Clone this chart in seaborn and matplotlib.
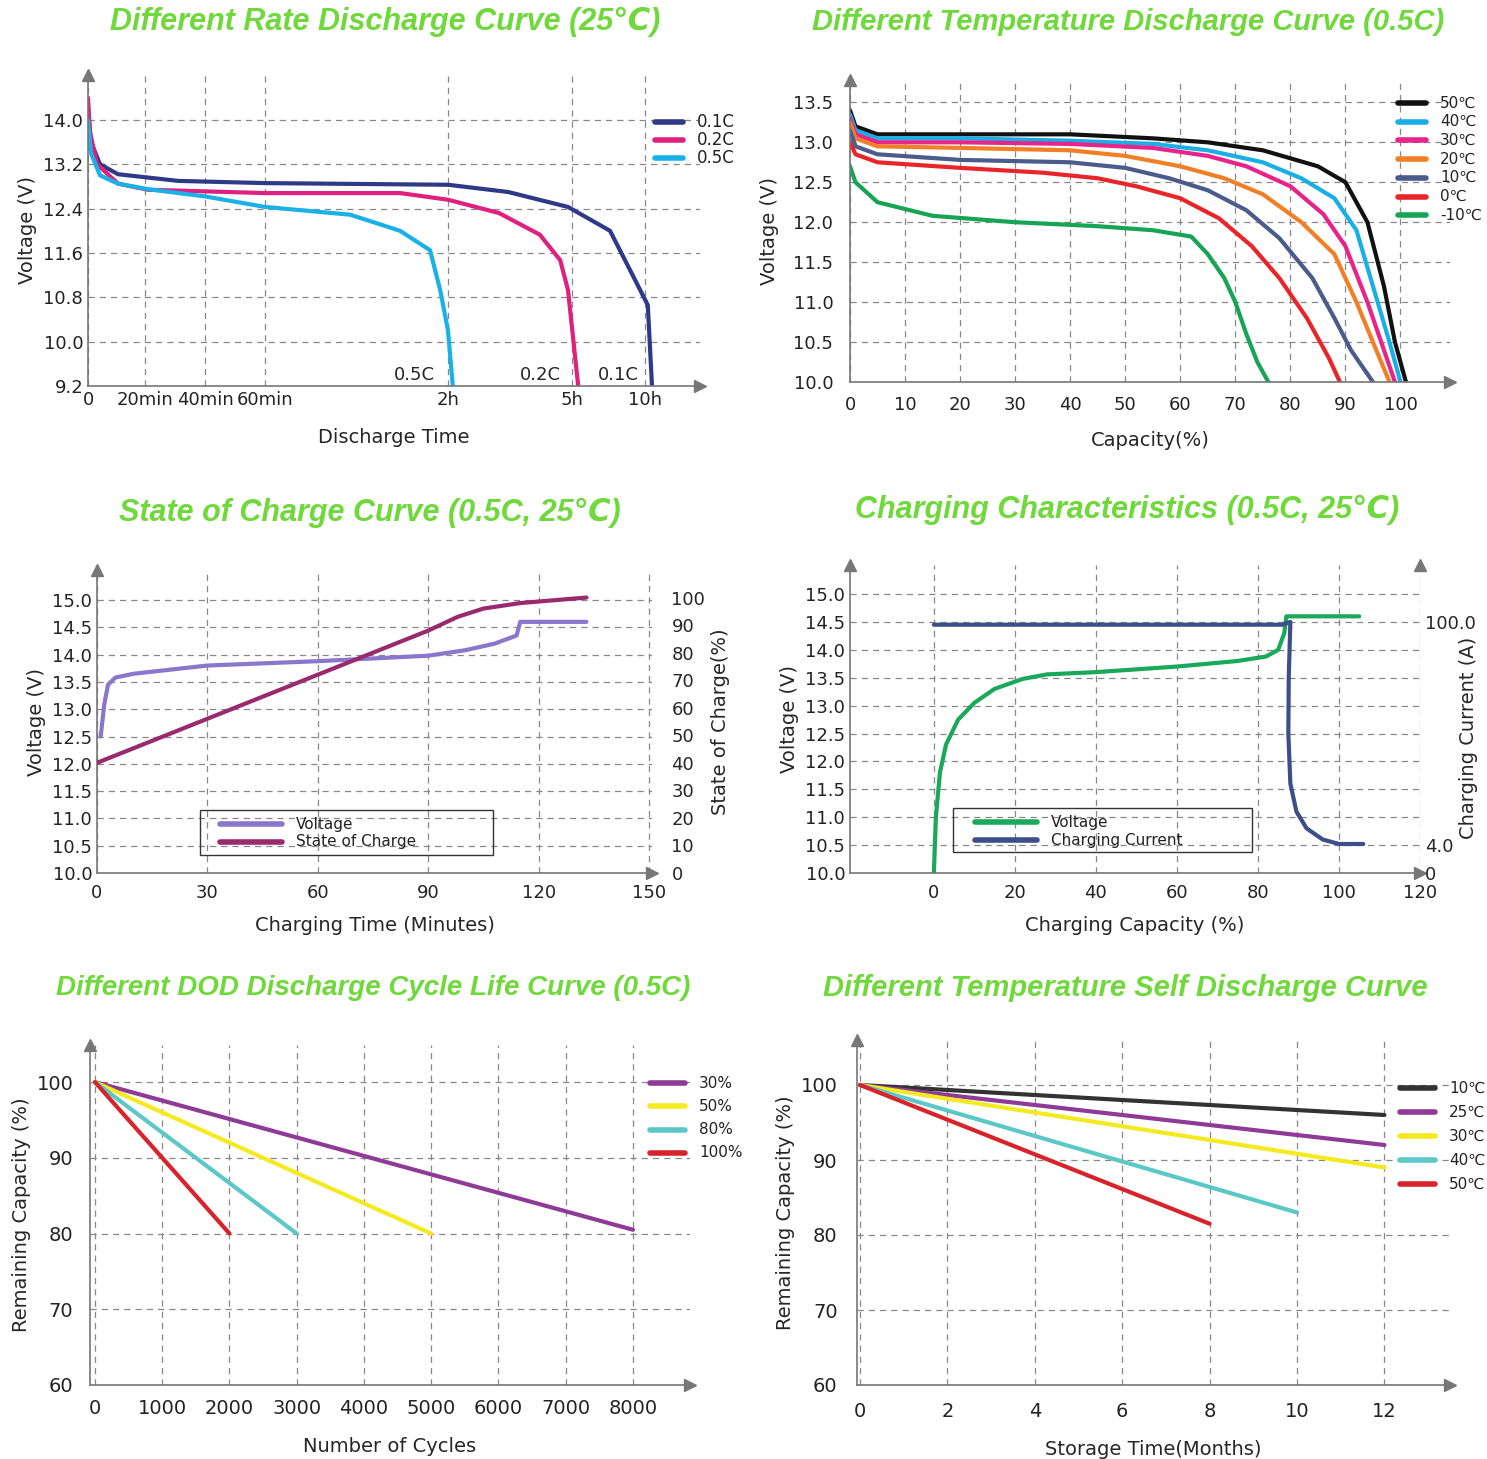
import numpy as np
import pandas as pd
import matplotlib
matplotlib.use("Agg")
import matplotlib.pyplot as plt
import seaborn as sns

sns.set_style("white")
plt.rcParams['font.family'] = ['DejaVu Sans']

W, H = 1487, 1459
GREEN = "#6fd83a"

# ---------------- data ----------------
rate_ticks = [0, 0.95, 1.95, 2.95, 6.0, 8.07, 9.28]
rate_ticklabels = ["0", "20min", "40min", "60min", "2h", "5h", "10h"]
r01_x = [0, 0.05, 0.2, 0.5, 1.5, 2.95, 6.0, 7.0, 8.0, 8.7, 9.03, 9.33, 9.4]
r01_y = [14.2, 13.6, 13.2, 13.02, 12.9, 12.86, 12.83, 12.7, 12.43, 12.0, 11.3, 10.66, 9.2]
r02_x = [0, 0.03, 0.15, 0.5, 1.0, 2.95, 5.2, 6.0, 6.85, 7.53, 7.87, 8.0, 8.17]
r02_y = [14.4, 13.8, 13.2, 12.85, 12.74, 12.68, 12.68, 12.56, 12.32, 11.93, 11.47, 10.93, 9.2]
r05_x = [0, 0.05, 0.2, 0.5, 1.0, 1.95, 2.95, 4.37, 5.2, 5.7, 5.87, 6.0, 6.08]
r05_y = [14.0, 13.4, 13.0, 12.85, 12.75, 12.62, 12.43, 12.29, 12.0, 11.65, 10.93, 10.2, 9.2]

temp_labels = ["50℃", "40℃", "30℃", "20℃", "10℃", "0℃", "-10℃"]
temp_colors = ["#111111", "#19aee6", "#e8248a", "#f07f26", "#4a5b8c", "#e8262a", "#18a455"]
temp_x = [
    [0, 1, 5, 20, 40, 55, 65, 75, 85, 90, 94, 97, 99, 101],
    [0, 1, 5, 20, 40, 55, 65, 75, 82, 88, 92, 95, 98, 100],
    [0, 1, 5, 20, 40, 55, 65, 72, 80, 86, 90, 94, 97, 99],
    [0, 1, 5, 20, 40, 50, 60, 68, 75, 82, 88, 92, 95, 98],
    [0, 1, 5, 20, 40, 50, 58, 65, 72, 78, 84, 88, 91, 95],
    [0, 1, 5, 20, 35, 45, 52, 60, 67, 73, 78, 83, 87, 89],
    [0, 1, 5, 15, 30, 45, 55, 62, 65, 68, 70, 72, 74, 76],
]
temp_y = [
    [13.4, 13.2, 13.1, 13.1, 13.1, 13.05, 13.0, 12.9, 12.7, 12.5, 12.0, 11.2, 10.5, 10.0],
    [13.35, 13.15, 13.05, 13.05, 13.02, 12.98, 12.9, 12.75, 12.55, 12.3, 11.9, 11.2, 10.5, 10.0],
    [13.3, 13.1, 13.0, 13.0, 12.98, 12.93, 12.83, 12.7, 12.45, 12.1, 11.7, 11.0, 10.4, 10.0],
    [13.25, 13.05, 12.95, 12.93, 12.9, 12.83, 12.7, 12.55, 12.35, 12.0, 11.6, 11.0, 10.5, 10.0],
    [13.15, 12.95, 12.85, 12.78, 12.75, 12.68, 12.55, 12.4, 12.15, 11.8, 11.3, 10.8, 10.4, 10.0],
    [13.0, 12.85, 12.75, 12.68, 12.62, 12.55, 12.45, 12.3, 12.05, 11.7, 11.3, 10.8, 10.3, 10.0],
    [12.7, 12.5, 12.25, 12.08, 12.0, 11.95, 11.9, 11.82, 11.6, 11.3, 11.0, 10.6, 10.25, 10.0],
]

soc_vx = [1, 2, 3, 5, 10, 30, 60, 90, 100, 108, 112, 114, 115, 133]
soc_vy = [12.5, 13.1, 13.45, 13.58, 13.65, 13.8, 13.88, 13.98, 14.08, 14.2, 14.3, 14.35, 14.6, 14.6]
soc_x = [0, 30, 60, 90, 98, 105, 115, 133]
soc_y = [40, 56, 72, 88, 93, 96, 98, 100]

chg_vx = [0, 0.5, 1.5, 3, 6, 10, 15, 22, 28, 40, 60, 75, 82, 85, 86.5, 87, 87.5, 105]
chg_vy = [10.0, 11.0, 11.8, 12.3, 12.75, 13.05, 13.3, 13.48, 13.56, 13.6, 13.7, 13.8, 13.88, 14.0, 14.3, 14.6, 14.6, 14.6]
cur_x = [0, 86, 88, 87.6, 87.5, 88, 89.5, 92, 96, 100, 106]
cur_y = [14.45, 14.45, 14.5, 13.5, 12.5, 11.6, 11.1, 10.8, 10.6, 10.52, 10.52]

dod_labels = ["30%", "50%", "80%", "100%"]
dod_colors = ["#8e3a96", "#f5ea20", "#5cc7c7", "#d8232a"]
dod_x = [[0, 8000], [0, 5000], [0, 3000], [0, 2000]]
dod_y = [[100, 80.5], [100, 80], [100, 80], [100, 80]]

sd_labels = ["10℃", "25℃", "30℃", "40℃", "50℃"]
sd_colors = ["#333333", "#8e3a96", "#f5ea20", "#5cc7c7", "#d8232a"]
sd_x = [[0, 12], [0, 12], [0, 12], [0, 10], [0, 8]]
sd_y = [[100, 96], [100, 92], [100, 89], [100, 83], [100, 81.5]]

# ---------------- helpers ----------------
fig = plt.figure(figsize=(W / 100, H / 100), dpi=100)


def ax_px(l, t, r, b):
    return fig.add_axes([l / W, 1 - b / H, (r - l) / W, (b - t) / H])


def style(ax):
    for s in ["top", "right"]:
        ax.spines[s].set_visible(False)
    for s in ["left", "bottom"]:
        ax.spines[s].set_color("#777777")
        ax.spines[s].set_linewidth(1.2)
    ax.plot(0, 1, marker="^", color="#777777", markersize=9, transform=ax.transAxes, clip_on=False)
    ax.plot(1, 0, marker=">", color="#777777", markersize=9, transform=ax.transAxes, clip_on=False)
    ax.grid(True, linestyle=(0, (5, 4)), color="#888888", linewidth=0.9)
    ax.tick_params(labelsize=13, length=0, colors="#222222")


def line(ax, x, y, color, lw=3, label=None):
    df = pd.DataFrame({"x": x, "y": y})
    sns.lineplot(data=df, x="x", y="y", ax=ax, color=color, lw=lw, sort=False,
                 estimator=None, label=label, legend=False)
    ax.set_xlabel("")
    ax.set_ylabel("")


def title(x, y, s, fs=21):
    fig.text(x / W, 1 - y / H, s, color=GREEN, fontsize=fs, fontweight="bold",
             fontstyle="italic", ha="center", va="center",
             family=["Liberation Sans", "DejaVu Sans"])


def legend(ax, labels, colors, x, y, dy, fs=11, llen=28, lw=4):
    for i, (lab, c) in enumerate(zip(labels, colors)):
        yy = 1 - (y + i * dy) / H
        fig.add_artist(plt.Line2D([x / W, (x + llen) / W], [yy, yy], color=c, lw=lw))
        fig.text((x + llen + 14) / W, yy, lab, fontsize=fs, va="center", color="#222222")


# ---------------- Panel 1 ----------------
ax = ax_px(88, 75, 700, 386)
style(ax)
line(ax, r01_x, r01_y, "#2e3a87")
line(ax, r02_x, r02_y, "#e0207f")
line(ax, r05_x, r05_y, "#1ab0e8")
ax.set_xlim(0, 10.2)
ax.set_ylim(9.2, 14.81)
ax.set_xticks(rate_ticks)
ax.set_xticklabels(rate_ticklabels)
ax.set_yticks([9.2, 10.0, 10.8, 11.6, 12.4, 13.2, 14.0])
ax.set_ylabel("Voltage (V)", fontsize=14)
ax.set_xlabel("Discharge Time", fontsize=14, labelpad=14)
for tx, s in [(5.1, "0.5C"), (7.2, "0.2C"), (8.5, "0.1C")]:
    ax.text(tx, 9.3, s, fontsize=13)
title(385, 22, "Different Rate Discharge Curve (25℃)", fs=22)
legend(ax, ["0.1C", "0.2C", "0.5C"], ["#2e3a87", "#e0207f", "#1ab0e8"], 655, 122, 18, fs=12)

# ---------------- Panel 2 ----------------
ax = ax_px(850, 80, 1450, 382)
style(ax)
for xs, ys, c in zip(temp_x, temp_y, temp_colors):
    line(ax, xs, ys, c)
ax.set_xlim(0, 109)
ax.set_ylim(10, 13.78)
ax.set_xticks([0, 10, 20, 30, 40, 50, 60, 70, 80, 90, 100])
ax.set_yticks([10.0, 10.5, 11.0, 11.5, 12.0, 12.5, 13.0, 13.5])
ax.tick_params(axis="y", pad=12)
ax.tick_params(axis="x", pad=10)
ax.set_ylabel("Voltage (V)", fontsize=14, labelpad=10)
ax.set_xlabel("Capacity(%)", fontsize=14, labelpad=12)
title(1128, 22, "Different Temperature Discharge Curve (0.5C)")
legend(ax, temp_labels, temp_colors, 1398, 103, 18.7, fs=11)

# ---------------- Panel 3 ----------------
ax = ax_px(97, 570, 652, 873)
style(ax)
line(ax, soc_vx, soc_vy, "#8877cc")
ax.set_xlim(0, 150.8)
ax.set_ylim(10, 15.55)
ax.set_xticks([0, 30, 60, 90, 120, 150])
ax.set_yticks([10.0, 10.5, 11.0, 11.5, 12.0, 12.5, 13.0, 13.5, 14.0, 14.5, 15.0])
ax.tick_params(axis="x", pad=8)
ax.set_ylabel("Voltage (V)", fontsize=14)
ax.set_xlabel("Charging Time (Minutes)", fontsize=14, labelpad=10)
ax2 = ax.twinx()
line(ax2, soc_x, soc_y, "#9a2a6e")
ax2.set_ylim(0, 110)
ax2.set_yticks([0, 10, 20, 30, 40, 50, 60, 70, 80, 90, 100])
ax2.tick_params(labelsize=13, length=0, pad=14)
for s in ["top", "left", "bottom", "right"]:
    ax2.spines[s].set_visible(False)
ax2.set_ylabel("State of Charge(%)", fontsize=14)
title(370, 513, "State of Charge Curve (0.5C, 25℃)", fs=22)
fig.add_artist(plt.Rectangle((200 / W, 1 - 855 / H), 293 / W, 45 / H, fill=False, color="#333333", lw=1))
legend(ax, ["Voltage", "State of Charge"], ["#8877cc", "#9a2a6e"], 220, 824, 18, fs=11, llen=62)

# ---------------- Panel 4 ----------------
ax = ax_px(850, 565, 1420, 873)
style(ax)
line(ax, chg_vx, chg_vy, "#1aa85a")
line(ax, cur_x, cur_y, "#3c4f88")
ax.set_xlim(-20.7, 120)
ax.set_ylim(10, 15.52)
ax.set_xticks([0, 20, 40, 60, 80, 100, 120])
ax.set_yticks([10.0, 10.5, 11.0, 11.5, 12.0, 12.5, 13.0, 13.5, 14.0, 14.5, 15.0])
ax.tick_params(axis="x", pad=8)
ax.set_ylabel("Voltage (V)", fontsize=14)
ax.set_xlabel("Charging Capacity (%)", fontsize=14, labelpad=10)
ax3 = ax.twinx()
ax3.set_ylim(10, 15.52)
ax3.set_yticks([10.0, 10.5, 14.5])
ax3.set_yticklabels(["0", "4.0", "100.0"])
ax3.tick_params(labelsize=13, length=0)
for s in ["top", "left", "bottom", "right"]:
    ax3.spines[s].set_visible(False)
ax3.plot(1, 1, marker="^", color="#777777", markersize=9, transform=ax3.transAxes, clip_on=False)
fig.text(1468 / W, 1 - 738 / H, "Charging Current (A)", fontsize=14, rotation=90,
         ha="center", va="center")
title(1127, 510, "Charging Characteristics (0.5C, 25℃)", fs=22)
fig.add_artist(plt.Rectangle((953 / W, 1 - 852 / H), 299 / W, 44 / H, fill=False, color="#333333", lw=1))
legend(ax, ["Voltage", "Charging Current"], ["#1aa85a", "#3c4f88"], 975, 822, 18, fs=11, llen=62)

# ---------------- Panel 5 ----------------
ax = ax_px(90, 1045, 690, 1385)
style(ax)
for xs, ys, c in zip(dod_x, dod_y, dod_colors):
    line(ax, xs, ys, c)
ax.set_xlim(-74, 8848)
ax.set_ylim(60, 104.9)
ax.set_xticks([0, 1000, 2000, 3000, 4000, 5000, 6000, 7000, 8000])
ax.set_yticks([60, 70, 80, 90, 100])
ax.tick_params(axis="y", pad=12, labelsize=14)
ax.tick_params(axis="x", pad=10, labelsize=14)
ax.set_ylabel("Remaining Capacity (%)", fontsize=14)
ax.set_xlabel("Number of Cycles", fontsize=14, labelpad=14)
title(373, 988, "Different DOD Discharge Cycle Life Curve (0.5C)", fs=20)
legend(ax, dod_labels, dod_colors, 650, 1083, 23.3, fs=11, llen=35)

# ---------------- Panel 6 ----------------
ax = ax_px(857, 1040, 1450, 1385)
style(ax)
for xs, ys, c in zip(sd_x, sd_y, sd_colors):
    line(ax, xs, ys, c)
ax.set_xlim(-0.07, 13.5)
ax.set_ylim(60, 106)
ax.set_xticks([0, 2, 4, 6, 8, 10, 12])
ax.set_yticks([60, 70, 80, 90, 100])
ax.tick_params(axis="y", pad=14, labelsize=14)
ax.tick_params(axis="x", pad=12, labelsize=14)
ax.set_ylabel("Remaining Capacity (%)", fontsize=14)
ax.set_xlabel("Storage Time(Months)", fontsize=14, labelpad=14)
title(1125, 988, "Different Temperature Self Discharge Curve")
legend(ax, sd_labels, sd_colors, 1400, 1088, 24, fs=11, llen=35)

fig.savefig("out.png", dpi=100)
